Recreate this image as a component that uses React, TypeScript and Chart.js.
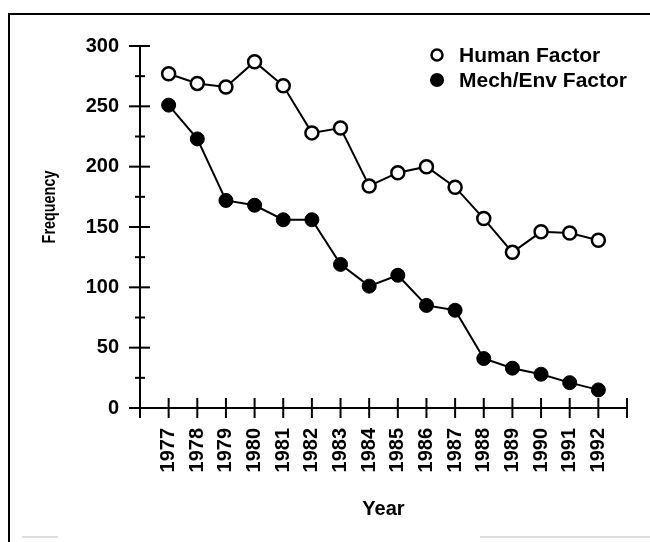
import React, { useEffect, useRef } from "react";
import { Chart, registerables } from "chart.js";

Chart.register(...registerables);

const years = [1977, 1978, 1979, 1980, 1981, 1982, 1983, 1984, 1985, 1986, 1987, 1988, 1989, 1990, 1991, 1992];
const humanFactor = [277, 269, 266, 287, 267, 228, 232, 184, 195, 200, 183, 157, 129, 146, 145, 139];
const mechEnvFactor = [251, 223, 172, 168, 156, 156, 119, 101, 110, 85, 81, 41, 33, 28, 21, 15];
const seriesLabels = ["Human Factor", "Mech/Env Factor"];
const xTitle = "Year";
const yTitle = "Frequency";

const FONT = "'Liberation Sans', Arial, sans-serif";

const decorPlugin = {
  id: "decor",
  beforeDraw(chart: any) {
    const ctx = chart.ctx;
    ctx.save();
    ctx.strokeStyle = "#000";
    ctx.lineWidth = 2;
    ctx.beginPath();
    ctx.moveTo(9, 542);
    ctx.lineTo(9, 14);
    ctx.lineTo(650, 14);
    ctx.stroke();
    ctx.strokeStyle = "#bbb";
    ctx.lineWidth = 1;
    ctx.beginPath();
    ctx.moveTo(22, 537);
    ctx.lineTo(58, 537);
    ctx.moveTo(480, 537);
    ctx.lineTo(650, 537);
    ctx.stroke();
    ctx.restore();
  },
  beforeDatasetsDraw(chart: any) {
    const ctx = chart.ctx;
    const { left, bottom } = chart.chartArea;
    const xs = chart.scales.x;
    const ys = chart.scales.y;
    ctx.save();
    ctx.strokeStyle = "#000";
    ctx.lineWidth = 2;
    ys.ticks.forEach((t: any) => {
      const y = ys.getPixelForValue(t.value);
      const major = t.value % 50 === 0;
      ctx.beginPath();
      ctx.moveTo(left - (major ? 11 : 5), y);
      ctx.lineTo(left + (major ? 10 : 5), y);
      ctx.stroke();
    });
    xs.ticks.forEach((t: any) => {
      const x = xs.getPixelForValue(t.value);
      ctx.beginPath();
      ctx.moveTo(x, bottom - 10);
      ctx.lineTo(x, bottom + 10);
      ctx.stroke();
    });
    ctx.restore();
  },
  afterDraw(chart: any) {
    const ctx = chart.ctx;
    const { left, right } = chart.chartArea;
    ctx.save();
    ctx.fillStyle = "#000";
    // x title
    ctx.font = `bold 20px ${FONT}`;
    ctx.textAlign = "center";
    ctx.textBaseline = "middle";
    ctx.fillText(xTitle, (left + right) / 2, 509);
    // y title
    ctx.save();
    ctx.translate(50, 207);
    ctx.rotate(-Math.PI / 2);
    ctx.scale(0.8, 1);
    ctx.font = `bold 18px ${FONT}`;
    ctx.fillText(yTitle, 0, 0);
    ctx.restore();
    // legend
    ctx.font = `bold 21px ${FONT}`;
    ctx.textAlign = "left";
    const rows = [55, 80];
    chart.data.datasets.forEach((ds: any, i: number) => {
      const y = rows[i];
      ctx.beginPath();
      ctx.arc(437, y, i === 0 ? 5.5 : 7, 0, Math.PI * 2);
      if (i === 0) {
        ctx.fillStyle = "#fff";
        ctx.fill();
        ctx.lineWidth = 2.5;
        ctx.strokeStyle = "#000";
        ctx.stroke();
      } else {
        ctx.fillStyle = "#000";
        ctx.fill();
      }
      ctx.fillStyle = "#000";
      ctx.fillText(ds.label, 459, y + 1);
    });
    ctx.restore();
  },
};

export default function App() {
  const ref = useRef<HTMLCanvasElement>(null);
  useEffect(() => {
    if (!ref.current) return;
    const chart = new Chart(ref.current, {
      type: "line",
      data: {
        datasets: [
          {
            label: seriesLabels[0],
            data: years.map((y, i) => ({ x: y, y: humanFactor[i] })),
            borderColor: "#000",
            borderWidth: 2,
            pointRadius: 6.5,
            pointBackgroundColor: "#fff",
            pointBorderColor: "#000",
            pointBorderWidth: 2.5,
            tension: 0,
          },
          {
            label: seriesLabels[1],
            data: years.map((y, i) => ({ x: y, y: mechEnvFactor[i] })),
            borderColor: "#000",
            borderWidth: 2,
            pointRadius: 7,
            pointBackgroundColor: "#000",
            pointBorderColor: "#000",
            pointBorderWidth: 1,
            tension: 0,
          },
        ],
      },
      options: {
        responsive: false,
        animation: false,
        layout: { padding: { left: 0, top: 46, right: 23, bottom: 0 } },
        plugins: { legend: { display: false }, tooltip: { enabled: false } },
        scales: {
          x: {
            type: "linear",
            min: 1976,
            max: 1993,
            afterFit: (s: any) => {
              s.height = 134;
              s.paddingLeft = 0;
              s.paddingRight = 0;
            },
            grid: { display: false },
            border: { display: true, color: "#000", width: 2 },
            ticks: {
              stepSize: 1,
              autoSkip: false,
              minRotation: 90,
              maxRotation: 90,
              padding: 12,
              color: "#000",
              font: { family: FONT, size: 20, weight: "bold" },
              callback: (v: any) => (v >= years[0] && v <= years[years.length - 1] ? String(v) : ""),
            },
          },
          y: {
            min: 0,
            max: 300,
            afterFit: (s: any) => {
              s.width = 140;
            },
            grid: { display: false },
            border: { display: true, color: "#000", width: 2 },
            ticks: {
              stepSize: 25,
              autoSkip: false,
              padding: 13,
              color: "#000",
              font: { family: FONT, size: 20, weight: "bold" },
              callback: (v: any) => (v % 50 === 0 ? String(v) : ""),
            },
          },
        },
      },
      plugins: [decorPlugin],
    });
    return () => chart.destroy();
  }, []);
  return (
    <div style={{ position: "fixed", left: 0, top: 0, width: 650, height: 542, background: "#fff" }}>
      <canvas ref={ref} width={650} height={542} />
    </div>
  );
}
